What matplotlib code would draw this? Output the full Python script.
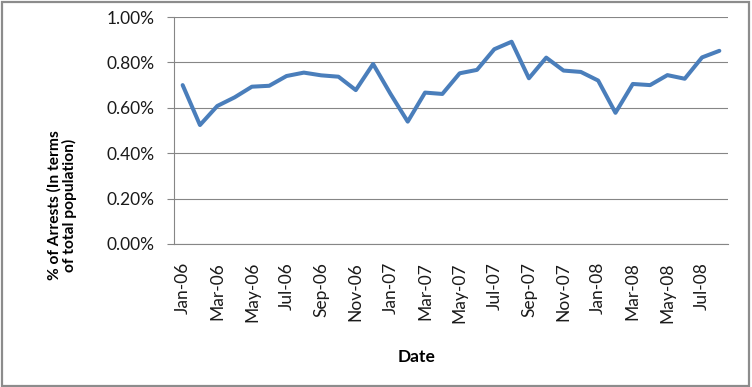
import matplotlib.pyplot as plt
from matplotlib.patches import Rectangle
import pandas as pd

## Data (monthly arrest rate, % of population)
months = pd.date_range('2006-01-01', '2008-08-01', freq='MS')
month_labels = [d.strftime('%b-%y') for d in months]
arrest_pct = [0.700, 0.524, 0.608, 0.646, 0.693, 0.697, 0.740, 0.755,
              0.743, 0.737, 0.678, 0.793, 0.662, 0.539, 0.667, 0.661,
              0.752, 0.767, 0.858, 0.891, 0.730, 0.821, 0.764, 0.758,
              0.720, 0.578, 0.705, 0.700, 0.744, 0.728, 0.822, 0.851]
y_ticks = [0.0, 0.2, 0.4, 0.6, 0.8, 1.0]

plt.rcParams['font.family'] = ['Lato', 'DejaVu Sans']

fig = plt.figure(figsize=(7.52, 3.87), dpi=100)
ax = fig.add_axes([174 / 752, 1 - 244 / 387, 554 / 752, 227 / 387])

x = list(range(len(arrest_pct)))
ax.plot(x, arrest_pct, color='#4A7EBB', linewidth=2.9,
        solid_joinstyle='round', solid_capstyle='round', zorder=3)

ax.set_xlim(-0.5, len(arrest_pct) - 0.5)
ax.set_ylim(0, 1.0)
ax.set_yticks(y_ticks)
ax.set_yticklabels([f'{v:.2f}%' for v in y_ticks], fontsize=12.5, color='#1a1a1a')
ax.set_xticks(x[::2])
ax.set_xticklabels(month_labels[::2], rotation=90, fontsize=12.5, color='#1a1a1a')
ax.tick_params(axis='x', length=0, pad=13)
ax.tick_params(axis='y', length=5, color='#868686', width=0.8, pad=9)

ax.grid(axis='y', color='#868686', linewidth=0.8)
ax.set_axisbelow(True)
for side in ['top', 'right']:
    ax.spines[side].set_visible(False)
for side in ['left', 'bottom']:
    ax.spines[side].set_color('#868686')
    ax.spines[side].set_linewidth(0.8)

fig.text(62 / 752, 1 - 205 / 387, '% of Arrests (In terms\nof total population)',
         rotation=90, ha='center', va='center', fontsize=11.2, fontweight='bold',
         linespacing=1.1)
fig.text(417 / 752, 1 - 357 / 387, 'Date', ha='center', va='center',
         fontsize=12.5, fontweight='bold')

# chart border
fig.patches.append(Rectangle((0.002, 0.003), 0.994, 0.992, transform=fig.transFigure,
                             fill=False, edgecolor='#8C8C8C', linewidth=1.6))

fig.savefig('out.png', dpi=100)
